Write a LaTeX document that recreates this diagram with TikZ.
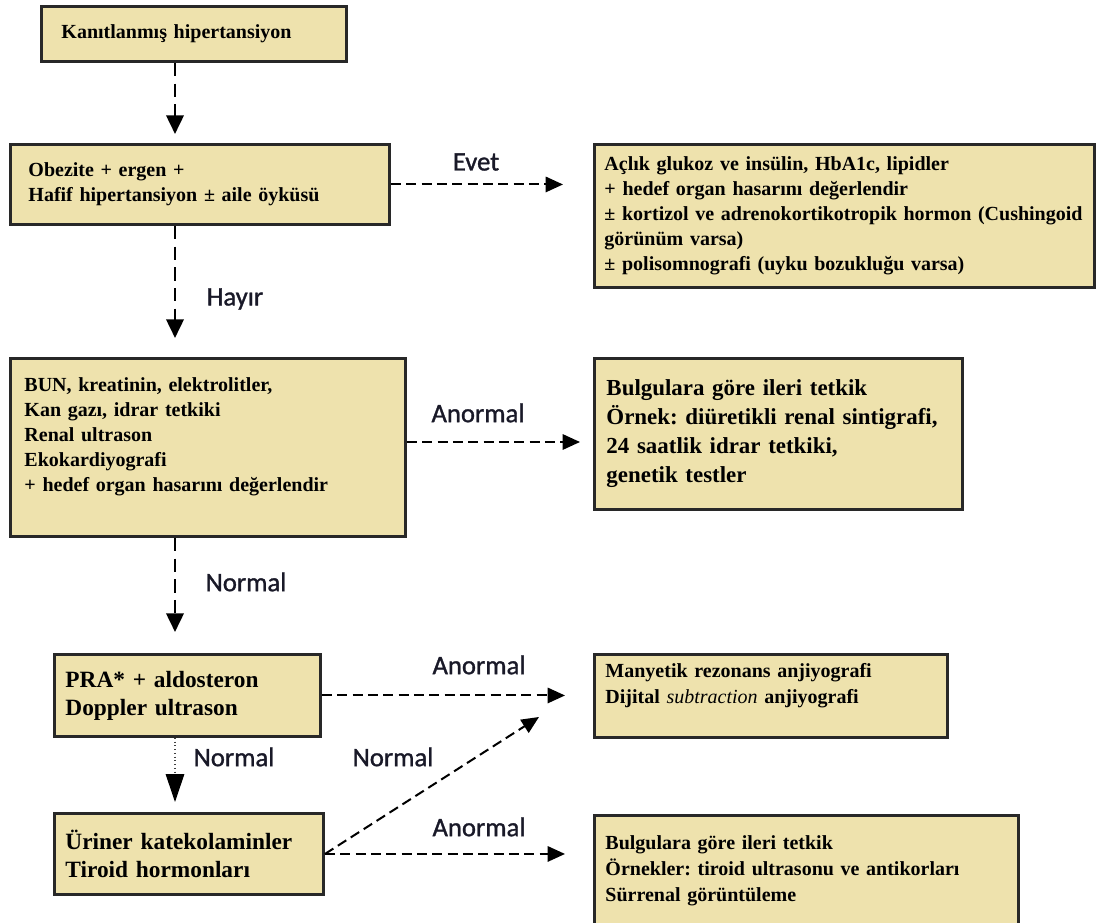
\documentclass[tikz,border=0pt]{standalone}
\usepackage{fontspec}
\setmainfont{Liberation Serif}
\newfontfamily\etiketfont[BoldFont=Carlito,BoldFeatures={FakeBold=1.2}]{Carlito}
\usetikzlibrary{arrows.meta}
\frenchspacing

\definecolor{kutudolgu}{RGB}{238,226,173}
\definecolor{kutucizgi}{RGB}{40,40,40}
\definecolor{etiketrenk}{RGB}{25,25,40}

\begin{document}
\begin{tikzpicture}[x=0.75pt,y=-0.75pt,
    kutu/.style={draw=kutucizgi,fill=kutudolgu,line width=2.2pt,anchor=north west,
        align=left,inner ysep=0pt,font=\bfseries\fontsize{15}{18.75}\selectfont},
    buyuk/.style={font=\bfseries\fontsize{17.2}{21.75}\selectfont},
    orta/.style={font=\bfseries\fontsize{17.5}{21}\selectfont},
    kucuk/.style={font=\bfseries\fontsize{15}{19.5}\selectfont},
    etiket/.style={text=etiketrenk,font=\etiketfont\bfseries\fontsize{20}{24}\selectfont},
    ok/.style={line width=1.5pt,dash pattern=on 7.5pt off 4pt,-{Triangle[length=13pt,width=11.5pt]}},
    okdik/.style={line width=2pt,dash pattern=on 10pt off 5.5pt,-{Triangle[length=14pt,width=13pt]}},
    noktali/.style={line width=0.8pt,draw=darkgray,dotted,-{Triangle[length=21pt,width=14pt,color=black]}}]
    \useasboundingbox (0,0) rectangle (1096,923);
    \clip (0,0) rectangle (1096,923);

    \node[kutu,text width=198.75pt,inner xsep=15pt,minimum height=41.25pt] (b1) at (40,5)
        {Kanıtlanmış hipertansiyon};
    \node[kutu,text width=257.25pt,inner xsep=13.5pt,minimum height=60pt] (b2) at (9,143)
        {Obezite + ergen +\\Hafif hipertansiyon ± aile öyküsü};
    \node[kutu,text width=360pt,inner xsep=7.5pt,minimum height=107.25pt] (b3) at (593,143)
        {Açlık glukoz ve insülin, HbA1c, lipidler\\+ hedef organ hasarını değerlendir\\± kortizol ve adrenokortikotropik hormon (Cushingoid\\görünüm varsa)\\± polisomnografi (uyku bozukluğu varsa)};
    \node[kutu,text width=275.25pt,inner xsep=10.5pt,minimum height=133.5pt] (b4) at (9,357)
        {BUN, kreatinin, elektrolitler,\\Kan gazı, idrar tetkiki\\Renal ultrason\\Ekokardiyografi\\+ hedef organ hasarını değerlendir\\~};
    \node[kutu,buyuk,text width=258pt,inner xsep=9pt,minimum height=113.25pt] (b5) at (593,357)
        {Bulgulara göre ileri tetkik\\Örnek: diüretikli renal sintigrafi,\\24 saatlik idrar tetkiki,\\genetik testler};
    \node[kutu,orta,text width=183pt,inner xsep=8.25pt,minimum height=61.5pt] (b6) at (53,653)
        {PRA* + aldosteron\\Doppler ultrason};
    \node[kutu,orta,text width=185.25pt,inner xsep=8.25pt,minimum height=60.75pt] (b7) at (53,812)
        {Üriner katekolaminler\\Tiroid hormonları};
    \node[kutu,kucuk,text width=248.25pt,inner xsep=8.25pt,minimum height=62.25pt] (b8) at (593,653)
        {Manyetik rezonans anjiyografi\\Dijital {\normalfont\itshape subtraction} anjiyografi\\~};
    \node[kutu,kucuk,text width=301.5pt,inner xsep=8.25pt,minimum height=99pt] (b9) at (593,814)
        {Bulgulara göre ileri tetkik\\Örnekler: tiroid ultrasonu ve antikorları\\Sürrenal görüntüleme\\~};

    % ok uclari
    \coordinate (u1) at (175,134);
    \coordinate (u2) at (175,338);
    \coordinate (u3) at (175,632);
    \coordinate (u4) at (175,802);
    \coordinate (s1) at (563,183);
    \coordinate (s2) at (580,442);
    \coordinate (s3) at (565,693);
    \coordinate (s4) at (565,855);
    \coordinate (s5) at (539,717);

    \draw[okdik] (b1.south -| u1) -- (u1);
    \draw[okdik] (b2.south -| u2) -- (u2);
    \draw[okdik] (b4.south -| u3) -- (u3);
    \draw[noktali] (b6.south -| u4) -- (u4);
    \draw[ok] (b2.east) -- (b2.east -| s1);
    \draw[ok] (b4.east |- s2) -- (s2);
    \draw[ok] (b6.east) -- (b6.east -| s3);
    \draw[ok] (b7.east) -- (b7.east -| s4);
    \draw[ok] (b7.east) -- (s5);

    \node[etiket] (evet) at (476,162) {Evet};
    \node[etiket] (hayir) at (235,299) {Hayır};
    \node[etiket] (anormal1) at (478,413) {Anormal};
    \node[etiket] (normal1) at (246,582) {Normal};
    \node[etiket] (anormal2) at (479,665) {Anormal};
    \node[etiket] (normal2) at (234,757) {Normal};
    \node[etiket] (normal3) at (393,757) {Normal};
    \node[etiket] (anormal3) at (479,827) {Anormal};
\end{tikzpicture}
\end{document}
